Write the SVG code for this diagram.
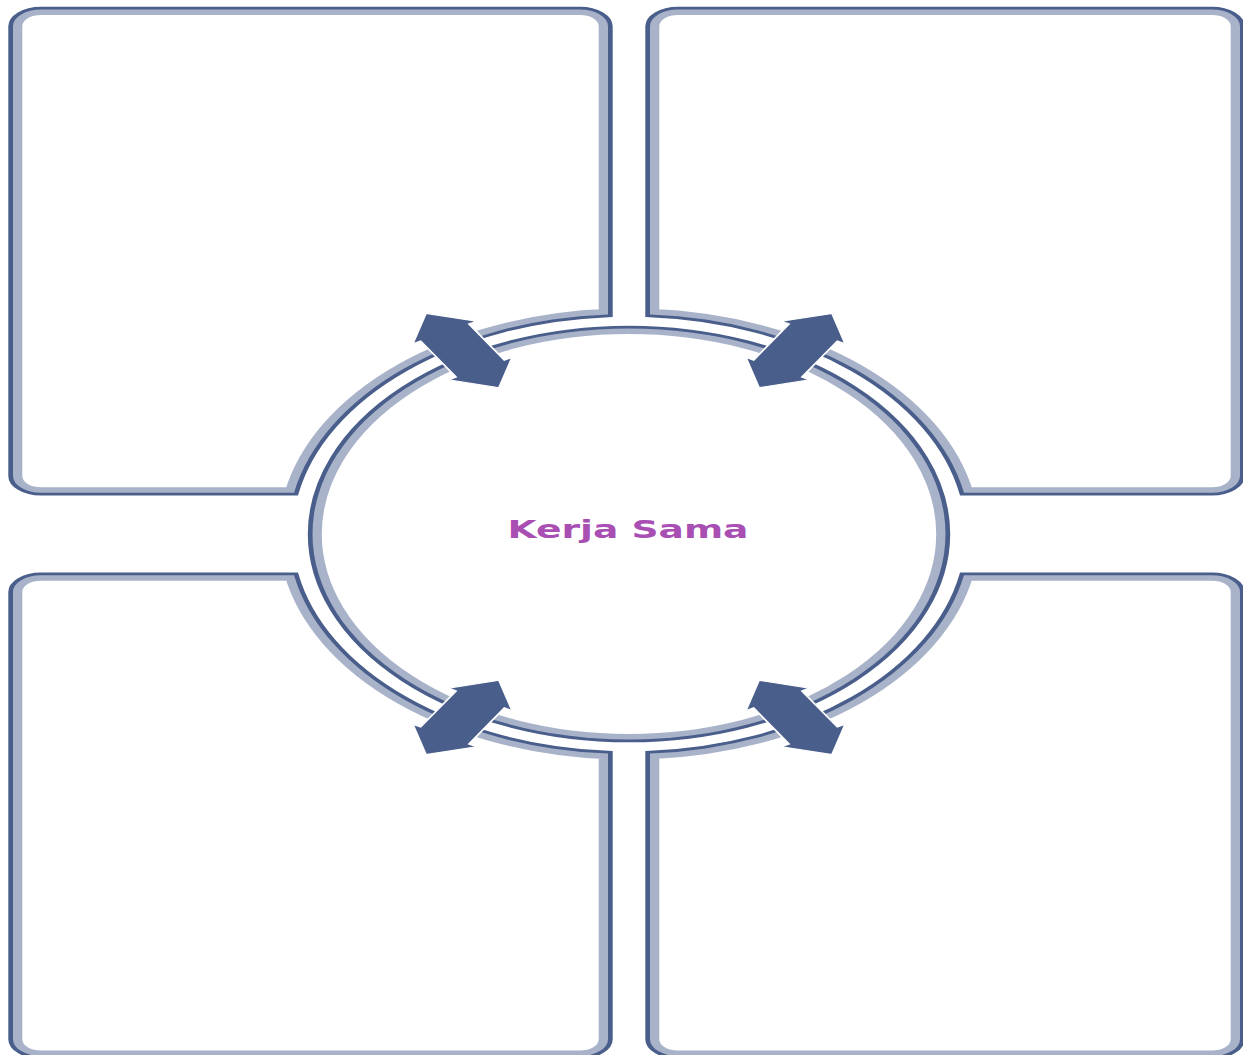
<svg xmlns="http://www.w3.org/2000/svg" width="1243" height="1055" viewBox="0 0 1243 1055">
<style>
.dk{fill:none;stroke:#4A5E8B;stroke-width:9.4;stroke-linejoin:miter}
.lt{fill:none;stroke:#A8B3CA;stroke-width:18.6;stroke-linejoin:miter}
.arr{fill:#4A5E8B;stroke:#ffffff;stroke-width:2;stroke-linejoin:miter}
.lbl{font-family:"DejaVu Sans","Liberation Sans",sans-serif;font-size:41px;font-weight:bold;fill:#A94FB3}
</style>
<defs>
<path id="b1" d="M41,15.8 H580 A28,28 0 0 1 608,43.8 V524 A341,366.7 0 0 0 294.05,821.25 H41 A28,28 0 0 1 13,793.25 V43.8 A28,28 0 0 1 41,15.8 Z"/>
<path id="b2" d="M678,15.8 H1212 A28,28 0 0 1 1240,43.8 V793.25 A28,28 0 0 1 1212,821.25 H963.95 A341,366.7 0 0 0 650,524 V43.8 A28,28 0 0 1 678,15.8 Z"/>
<path id="b3" d="M41,958.75 H294.05 A341,366.7 0 0 0 608,1256 V1732 A28,28 0 0 1 580,1760 H41 A28,28 0 0 1 13,1732 V986.75 A28,28 0 0 1 41,958.75 Z"/>
<path id="b4" d="M650,1256 A341,366.7 0 0 0 963.95,958.75 H1212 A28,28 0 0 1 1240,986.75 V1732 A28,28 0 0 1 1212,1760 H678 A28,28 0 0 1 650,1732 Z"/>
<ellipse id="e0" cx="629" cy="890" rx="316.5" ry="342.5"/>
<clipPath id="c1"><use href="#b1"/></clipPath>
<clipPath id="c2"><use href="#b2"/></clipPath>
<clipPath id="c3"><use href="#b3"/></clipPath>
<clipPath id="c4"><use href="#b4"/></clipPath>
<clipPath id="c0"><use href="#e0"/></clipPath>
<path id="arrow" d="M-72,0 L-35,-37 L-35,-28 L35,-28 L35,-37 L72,0 L35,37 L35,28 L-35,28 L-35,37 Z"/>
</defs>
<rect width="1243" height="1055" fill="#ffffff"/>
<g transform="scale(1,0.6)">
  <g id="box-top-left"><use href="#b1" class="dk"/><use href="#b1" class="lt" clip-path="url(#c1)"/></g>
  <g id="box-top-right"><use href="#b2" class="dk"/><use href="#b2" class="lt" clip-path="url(#c2)"/></g>
  <g id="box-bottom-left"><use href="#b3" class="dk"/><use href="#b3" class="lt" clip-path="url(#c3)"/></g>
  <g id="box-bottom-right"><use href="#b4" class="dk"/><use href="#b4" class="lt" clip-path="url(#c4)"/></g>
  <g id="center-kerja-sama">
    <use href="#e0" class="dk"/><use href="#e0" class="lt" clip-path="url(#c0)"/>
    <text class="lbl" x="628" y="896.7" text-anchor="middle" textLength="241" lengthAdjust="spacingAndGlyphs">Kerja Sama</text>
  </g>
  <g id="connectors">
    <use href="#arrow" class="arr" transform="translate(462.5,584.2) rotate(59.5)"/>
    <use href="#arrow" class="arr" transform="translate(795.5,584.2) rotate(-59.5)"/>
    <use href="#arrow" class="arr" transform="translate(462.5,1195.8) rotate(-59.5)"/>
    <use href="#arrow" class="arr" transform="translate(795.5,1195.8) rotate(59.5)"/>
  </g>
</g>
</svg>
